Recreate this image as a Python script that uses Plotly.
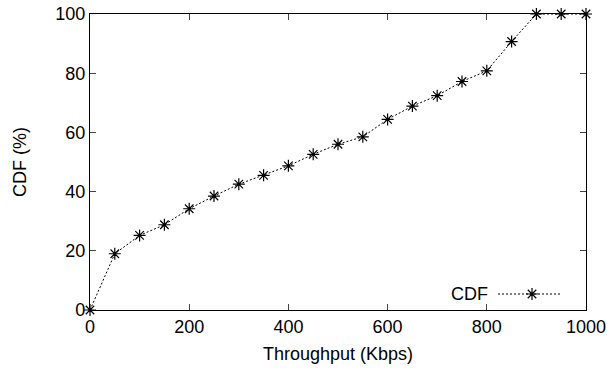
import plotly.graph_objects as go

throughput = [0, 50, 100, 150, 200, 250, 300, 350, 400, 450, 500,
              550, 600, 650, 700, 750, 800, 850, 900, 950, 1000]
cdf = [0, 19.0, 25.2, 28.8, 34.2, 38.5, 42.5, 45.5, 48.7, 52.6, 56.0,
       58.5, 64.4, 68.9, 72.4, 77.2, 80.8, 90.7, 100, 100, 100]
x_ticks = [0, 200, 400, 600, 800, 1000]
y_ticks = [0, 20, 40, 60, 80, 100]
series_name = "CDF"

FONT = "Liberation Sans, Arial, Helvetica, sans-serif"
FS = 18

fig = go.Figure()
fig.add_trace(go.Scatter(
    x=throughput, y=cdf, mode="lines+markers", name=series_name,
    line=dict(color="black", width=1, dash="2px,2px"),
    marker=dict(symbol="asterisk-open", size=10, color="black",
                line=dict(color="black", width=1.2)),
    cliponaxis=False, showlegend=False,
))

# legend key (gnuplot style: text, then line sample with point)
fig.add_trace(go.Scatter(
    x=[408, 470], y=[16, 16], mode="lines", xaxis="x2", yaxis="y2",
    line=dict(color="black", width=1, dash="2px,2px"), showlegend=False,
    hoverinfo="skip",
))
fig.add_trace(go.Scatter(
    x=[442], y=[16], mode="markers", xaxis="x2", yaxis="y2",
    marker=dict(symbol="asterisk-open", size=10, color="black",
                line=dict(color="black", width=1.2)),
    showlegend=False, hoverinfo="skip",
))
fig.add_annotation(
    x=400, y=16, xref="x2", yref="y2", text=series_name, showarrow=False,
    xanchor="right", yanchor="middle", font=dict(family=FONT, size=FS, color="black"),
)

# axis titles
fig.add_annotation(
    x=0.5, y=-44 / 296, xref="paper", yref="paper", text="Throughput (Kbps)",
    showarrow=False, xanchor="center", yanchor="middle",
    font=dict(family=FONT, size=FS, color="black"),
)
fig.add_annotation(
    x=-70 / 496, y=0.5, xref="paper", yref="paper", text="CDF (%)",
    showarrow=False, xanchor="center", yanchor="middle", textangle=-90,
    font=dict(family=FONT, size=FS, color="black"),
)

axis_common = dict(
    showgrid=False, zeroline=False, showline=True, linecolor="black",
    linewidth=1.2, mirror="ticks", ticks="inside", ticklen=6,
    tickcolor="#444", tickwidth=1, automargin=False,
    ticklabeloverflow="allow",
    tickfont=dict(family=FONT, size=FS, color="black"),
)

fig.update_layout(
    width=607, height=368,
    margin=dict(l=90, r=21, t=14, b=58),
    paper_bgcolor="white", plot_bgcolor="white",
    font=dict(family=FONT, size=FS, color="black"),
    xaxis=dict(range=[0, 1000], tickvals=x_ticks, **axis_common),
    yaxis=dict(range=[0, 100], tickvals=y_ticks, **axis_common),
    xaxis2=dict(range=[0, 496], overlaying="x", visible=False, fixedrange=True),
    yaxis2=dict(range=[0, 296], overlaying="y", visible=False, fixedrange=True),
)

# remove the default 8px page margin so the figure fills the window exactly
fig.write_html("out.html",
               config={"displayModeBar": False},
               post_script="document.body.style.margin='0';document.body.style.overflow='hidden';")
